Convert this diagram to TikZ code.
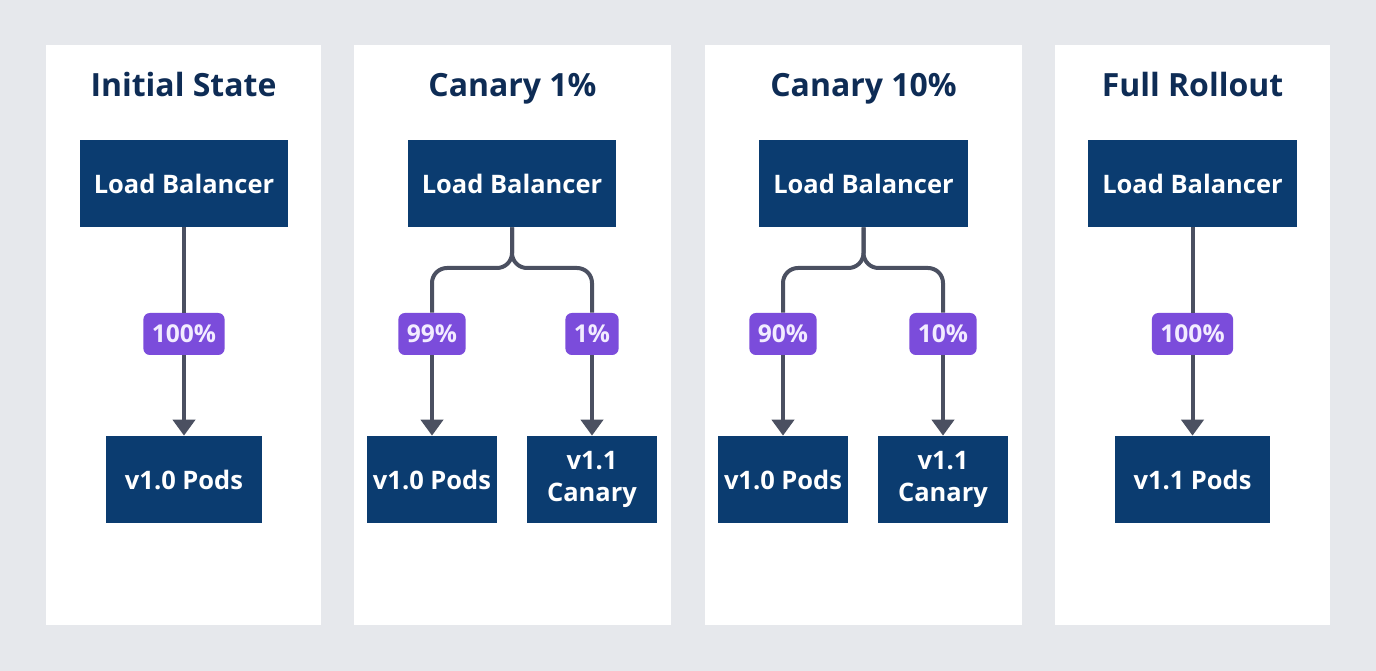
\documentclass[tikz,border=0pt]{standalone}
\usepackage{fontspec}
\setmainfont{Open Sans}
\usetikzlibrary{positioning,arrows.meta}
\usepackage{xcolor}
\definecolor{PageGray}{HTML}{E6E8EC}
\definecolor{BoxNavy}{HTML}{0B3C70}
\definecolor{TitleNavy}{HTML}{0E2C55}
\definecolor{WireGray}{HTML}{4B5061}
\definecolor{BadgePurple}{HTML}{7B4CDB}
\definecolor{BadgeText}{HTML}{F2ECFF}

\begin{document}
\begin{tikzpicture}[
        x=0.02cm, y=-0.02cm,
        panel/.style={fill=white},
        title/.style={anchor=base, text=TitleNavy, font=\fontsize{18.2}{22}\selectfont\bfseries},
        lbbox/.style={rectangle, fill=BoxNavy, text=white, minimum width=4.18cm, minimum height=1.74cm, align=center, font=\fontsize{14.5}{18}\selectfont\bfseries},
        podbox/.style={rectangle, fill=BoxNavy, text=white, minimum width=3.12cm, minimum height=1.74cm, align=center, font=\fontsize{14.5}{18}\selectfont\bfseries},
        canbox/.style={podbox, minimum width=2.6cm},
        badge/.style={rectangle, fill=BadgePurple, text=BadgeText, rounded corners=0.13cm, minimum height=0.84cm, inner xsep=0.17cm, font=\fontsize{14}{16}\selectfont\bfseries},
        wire/.style={draw=WireGray, line width=0.08cm},
        edge/.style={wire, -{Triangle[length=0.32cm,width=0.44cm]}}
    ]
        \useasboundingbox [fill=PageGray] (0,0) rectangle (1376,671);

        % panels
        \fill [panel] (46,45) rectangle (321,625);
        \fill [panel] (354,45) rectangle (671,625);
        \fill [panel] (705,45) rectangle (1022,625);
        \fill [panel] (1055,45) rectangle (1330,625);

        % initial state
        \node [title] (t1) at (183.5,97) {Initial State};
        \node [lbbox] (lb1) at (184,183.5) {Load Balancer};
        \node [podbox] (v10a) at (184,479.5) {v1.0 Pods};
        \node [badge] (b1) at (184,334) {100\%};
        \draw [wire] (lb1) -- (b1);
        \draw [edge] (b1) -- (v10a);

        % canary 1%
        \node [title] (t2) at (512.5,97) {Canary 1\%};
        \node [lbbox] (lb2) at (512,183.5) {Load Balancer};
        \node [canbox] (v10b) at (432,479.5) {v1.0 Pods};
        \node [canbox] (v11b) at (592,479.5) {v1.1\\Canary};
        \node [badge] (b99) at (432,334) {99\%};
        \node [badge] (b01) at (592,334) {1\%};
        \draw [wire, rounded corners=0.3cm] (lb2.south) -- (512,268) -| (b99.north);
        \draw [wire, rounded corners=0.3cm] (lb2.south) -- (512,268) -| (b01.north);
        \draw [edge] (b99) -- (v10b);
        \draw [edge] (b01) -- (v11b);

        % canary 10%
        \node [title] (t3) at (863.5,97) {Canary 10\%};
        \node [lbbox] (lb3) at (863.5,183.5) {Load Balancer};
        \node [canbox] (v10c) at (783,479.5) {v1.0 Pods};
        \node [canbox] (v11c) at (943,479.5) {v1.1\\Canary};
        \node [badge] (b90) at (783,334) {90\%};
        \node [badge] (b10) at (943,334) {10\%};
        \draw [wire, rounded corners=0.3cm] (lb3.south) -- (863.5,268) -| (b90.north);
        \draw [wire, rounded corners=0.3cm] (lb3.south) -- (863.5,268) -| (b10.north);
        \draw [edge] (b90) -- (v10c);
        \draw [edge] (b10) -- (v11c);

        % full rollout
        \node [title] (t4) at (1192.5,97) {Full Rollout};
        \node [lbbox] (lb4) at (1192.5,183.5) {Load Balancer};
        \node [podbox] (v11d) at (1192.5,479.5) {v1.1 Pods};
        \node [badge] (b4) at (1192.5,334) {100\%};
        \draw [wire] (lb4) -- (b4);
        \draw [edge] (b4) -- (v11d);
    \end{tikzpicture}
\end{document}
